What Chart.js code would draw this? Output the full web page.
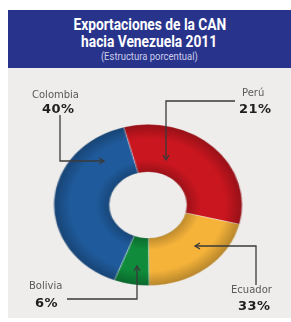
<!DOCTYPE html>
<html>
<head>
<meta charset="utf-8">
<script src="https://cdn.jsdelivr.net/npm/chart.js@4"></script>
<style>
  body { margin: 0; width: 291px; height: 322px; background: #fff; position: relative; overflow: hidden; }
  #banner { position: absolute; left: 8px; top: 10px; width: 283px; height: 58px; background: #28348c; }
  #panel { position: absolute; left: 8px; top: 68px; width: 283px; height: 250px; background: #eeedeb; }
  .t { position: absolute; left: 8px; width: 283px; text-align: center; color: #fff; white-space: nowrap; }
  .t span { display: inline-block; transform: scaleX(0.86); }
  #t1 { top: 15px; font: bold 16px Roboto, sans-serif; }
  #t2 { top: 32px; font: bold 16px Roboto, sans-serif; }
  #t3 { top: 50px; font: 11px Roboto, sans-serif; color: #c9cdea; }
  #wrap { position: absolute; left: 67px; top: 124px; width: 162px; height: 162px; transform: scaleX(1.167); transform-origin: 50% 50%; }
  .lab { position: absolute; font-family: "DejaVu Sans", sans-serif; white-space: nowrap; }
  .name { font-size: 10px; color: #5a5a5a; }
  .pct { font-size: 13px; font-weight: bold; color: #1e1e1e; letter-spacing: 0.5px; }
  svg { position: absolute; left: 0; top: 0; }
</style>
</head>
<body>
<div id="banner"></div>
<div id="panel"></div>
<div class="t" id="t1"><span>Exportaciones de la CAN</span></div>
<div class="t" id="t2"><span>hacia Venezuela 2011</span></div>
<div class="t" id="t3"><span>(Estructura porcentual)</span></div>
<div id="wrap"><canvas id="chart" width="162" height="162"></canvas></div>
<svg width="291" height="322" id="arrows"></svg>
<div id="labels"></div>
<script>
// clockwise from the top, as the slices appear in the graphic
const categories = ['Perú', 'Ecuador', 'Bolivia', 'Colombia'];
const shareLabels = [21, 33, 6, 40];      // percentages printed on the labels
const sliceSizes = [33, 21, 6, 40];       // slice sizes as drawn in the picture
const sliceColors = ['#c9161f', '#f5b33a', '#0f8b3b', '#1f5b9c'];

// label + arrow placement (page pixels)
const labelPos = {
    'Perú':     { name: [242, 87], pct: [239, 101], path: 'M235,101 H166 V160', head: 'down' },
    'Ecuador':  { name: [231, 284], pct: [238, 298], path: 'M256,285 V246 H195', head: 'left' },
    'Bolivia':  { name: [29, 280], pct: [35, 295], path: 'M67,299 H137 V266', head: 'up' },
    'Colombia': { name: [32, 89], pct: [42, 101], path: 'M60,115 V161 H104', head: 'right' }
};

const shade = {
    id: 'shade',
    afterDatasetsDraw(chart) {
        const arc = chart.getDatasetMeta(0).data[0];
        const ctx = chart.ctx;
        const g = ctx.createRadialGradient(arc.x, arc.y, arc.innerRadius, arc.x, arc.y, arc.outerRadius);
        g.addColorStop(0, 'rgba(0,0,0,0.22)');
        g.addColorStop(0.25, 'rgba(0,0,0,0)');
        g.addColorStop(0.7, 'rgba(0,0,0,0)');
        g.addColorStop(1, 'rgba(0,0,0,0.25)');
        ctx.save();
        ctx.beginPath();
        ctx.arc(arc.x, arc.y, arc.outerRadius, 0, Math.PI * 2);
        ctx.arc(arc.x, arc.y, arc.innerRadius, 0, Math.PI * 2, true);
        ctx.fillStyle = g;
        ctx.fill();
        ctx.restore();
    }
};

const ctx = document.getElementById('chart').getContext('2d');
const myChart = new Chart(ctx, {
    type: 'doughnut',
    data: {
        labels: categories,
        datasets: [{
            data: sliceSizes,
            backgroundColor: sliceColors,
            borderColor: 'rgba(255,255,255,0.45)',
            borderWidth: 0.8
        }]
    },
    options: {
        responsive: false,
        animation: false,
        devicePixelRatio: 1,
        rotation: -15,
        cutout: '41%',
        layout: { padding: 0 },
        plugins: { legend: { display: false }, tooltip: { enabled: false } }
    },
    plugins: [shade]
});

// labels and arrows
const svg = document.getElementById('arrows');
const labels = document.getElementById('labels');
const heads = {
    down: (x, y) => `M${x-3},${y-5} L${x},${y} L${x+3},${y-5}`,
    up: (x, y) => `M${x-3},${y+5} L${x},${y} L${x+3},${y+5}`,
    left: (x, y) => `M${x+5},${y-3} L${x},${y} L${x+5},${y+3}`,
    right: (x, y) => `M${x-5},${y-3} L${x},${y} L${x-5},${y+3}`
};
categories.forEach((c, i) => {
    const p = labelPos[c];
    labels.innerHTML += `<div class="lab name" style="left:${p.name[0]}px;top:${p.name[1]}px">${c}</div>`;
    labels.innerHTML += `<div class="lab pct" style="left:${p.pct[0]}px;top:${p.pct[1]}px">${shareLabels[i]}%</div>`;
    const pts = p.path.match(/-?\d+/g).map(Number);
    // end point of the path
    let x = pts[0], y = pts[1];
    p.path.replace(/([HV])(\d+)/g, (m, k, v) => { if (k === 'H') x = +v; else y = +v; });
    svg.innerHTML += `<path d="${p.path}" fill="none" stroke="#3a3a3a" stroke-width="1.3"/>`;
    svg.innerHTML += `<path d="${heads[p.head](x, y)}" fill="none" stroke="#3a3a3a" stroke-width="1.3"/>`;
});
</script>
</body>
</html>
